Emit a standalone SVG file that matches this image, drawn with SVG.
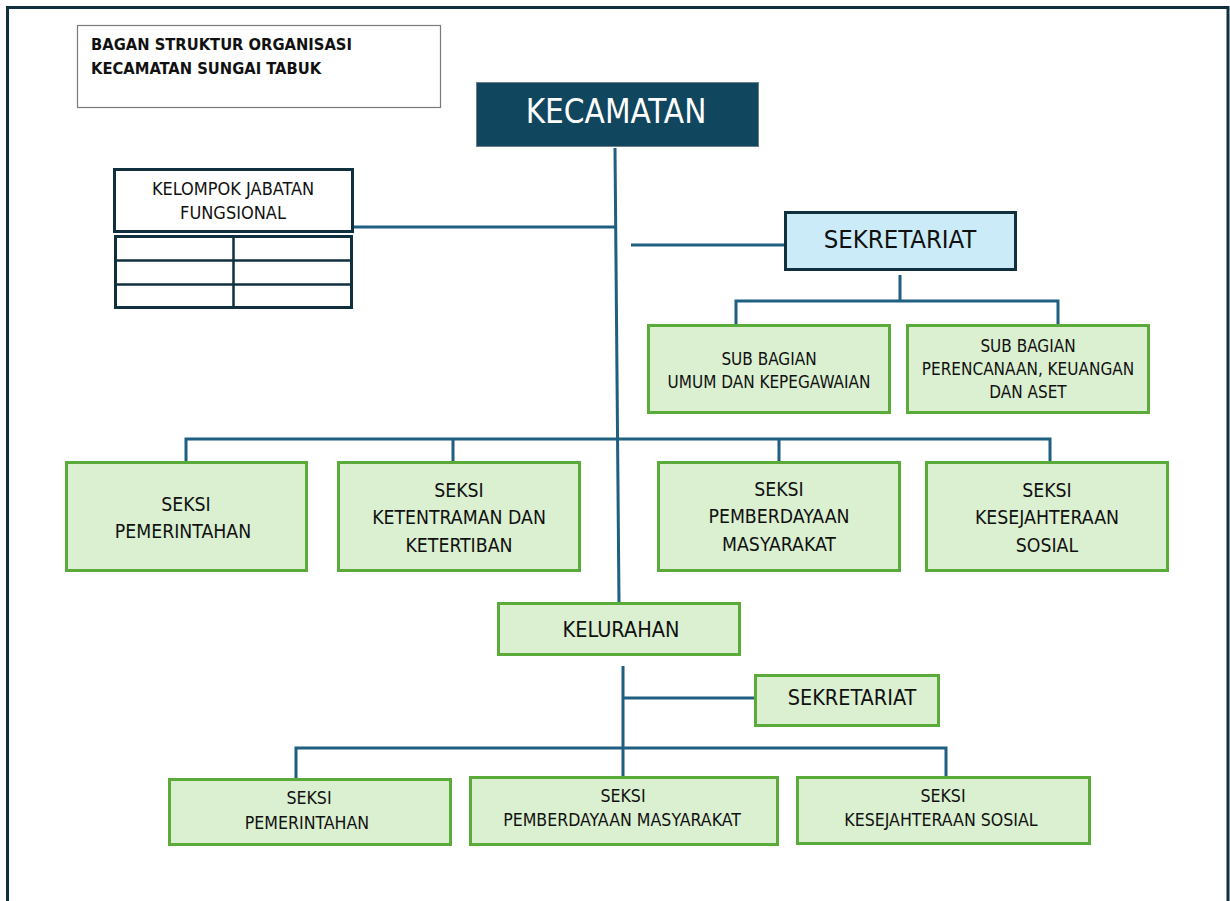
<svg xmlns="http://www.w3.org/2000/svg" width="1230" height="901" viewBox="0 0 1230 901">
<style>
text{font-family:"DejaVu Sans Condensed","DejaVu Sans","Liberation Sans",sans-serif;font-stretch:condensed;fill:#111;text-anchor:middle}
.g{fill:#daf0d0;stroke:#5aab3a;stroke-width:3}
.dk{fill:#fff;stroke:#10303f;stroke-width:3}
.ln{stroke:#1e5f82;stroke-width:3;fill:none}
.t19{font-size:19.3px}
.t16{font-size:17px}
.t17{font-size:17.6px}
</style>
<rect width="1230" height="901" fill="#fff"/>
<path d="M7.5 901 V7.5 H1228 V901" fill="none" stroke="#10303f" stroke-width="3"/>
<g id="title">
<rect x="77.5" y="25.5" width="363" height="82" fill="#fff" stroke="#7a7a7a" stroke-width="1.2"/>
<text x="91" y="50" style="font-size:16.4px;font-weight:bold;text-anchor:start">BAGAN STRUKTUR ORGANISASI</text>
<text x="91" y="74" style="font-size:16.4px;font-weight:bold;text-anchor:start">KECAMATAN SUNGAI TABUK</text>
</g>
<g id="connectors">
<path class="ln" d="M615 148 L619 603"/>
<path class="ln" d="M353 227 H616"/>
<path class="ln" d="M631 245 H785"/>
<path class="ln" d="M900 275 V301 M736 325 V301 H1058 V325"/>
<path class="ln" d="M186 462 V439 H1050 V462 M453 439 V462 M779 439 V462"/>
<path class="ln" d="M623 666 V776 M624 698 H755"/>
<path class="ln" d="M296 778 V748 H946 V777"/>
</g>
<g id="kecamatan">
<rect x="476.5" y="82.5" width="282" height="64" fill="#10465e" stroke="#6d7f88" stroke-width="1"/>
<text x="616" y="123" style="font-size:33px;fill:#fff">KECAMATAN</text>
</g>
<g id="kjf">
<rect class="dk" x="114.5" y="169.5" width="238" height="62"/>
<text x="233" y="195" style="font-size:18px">KELOMPOK JABATAN</text>
<text x="233" y="219" style="font-size:18px">FUNGSIONAL</text>
<rect class="dk" x="115.5" y="236.5" width="236" height="71" stroke-width="2.5"/>
<path d="M115 260.5 H352 M115 284.5 H352 M233.5 236 V308" stroke="#10303f" stroke-width="2.5"/>
</g>
<g id="sekretariat">
<rect x="785.5" y="212.5" width="230" height="57" fill="#cbebf9" stroke="#10303f" stroke-width="3"/>
<text x="900" y="248" style="font-size:25.5px">SEKRETARIAT</text>
</g>
<g id="subbag-umum">
<rect class="g" x="648.5" y="325.5" width="241" height="87"/>
<text class="t16" x="769" y="365">SUB BAGIAN</text>
<text class="t16" x="769" y="388">UMUM DAN KEPEGAWAIAN</text>
</g>
<g id="subbag-perencanaan">
<rect class="g" x="907.5" y="325.5" width="241" height="87"/>
<text class="t16" x="1028" y="352">SUB BAGIAN</text>
<text class="t16" x="1028" y="375">PERENCANAAN, KEUANGAN</text>
<text class="t16" x="1028" y="398">DAN ASET</text>
</g>
<g id="seksi-pemerintahan">
<rect class="g" x="66.5" y="462.5" width="240" height="108"/>
<text class="t19" x="186" y="511">SEKSI</text>
<text class="t19" x="183" y="538">PEMERINTAHAN</text>
</g>
<g id="seksi-ketentraman">
<rect class="g" x="338.5" y="462.5" width="241" height="108"/>
<text class="t19" x="459" y="497">SEKSI</text>
<text class="t19" x="459" y="524">KETENTRAMAN DAN</text>
<text class="t19" x="459" y="552">KETERTIBAN</text>
</g>
<g id="seksi-pemberdayaan">
<rect class="g" x="658.5" y="462.5" width="241" height="108"/>
<text class="t19" x="779" y="496">SEKSI</text>
<text class="t19" x="779" y="523">PEMBERDAYAAN</text>
<text class="t19" x="779" y="551">MASYARAKAT</text>
</g>
<g id="seksi-kesejahteraan">
<rect class="g" x="926.5" y="462.5" width="241" height="108"/>
<text class="t19" x="1047" y="497">SEKSI</text>
<text class="t19" x="1047" y="524">KESEJAHTERAAN</text>
<text class="t19" x="1047" y="552">SOSIAL</text>
</g>
<g id="kelurahan">
<rect class="g" x="498.5" y="603.5" width="241" height="51"/>
<text x="621" y="637" style="font-size:21.5px">KELURAHAN</text>
</g>
<g id="kel-sekretariat">
<rect class="g" x="755.5" y="675.5" width="183" height="50"/>
<text x="852" y="705" style="font-size:21.5px">SEKRETARIAT</text>
</g>
<g id="kel-seksi-pemerintahan">
<rect class="g" x="169.5" y="779.5" width="281" height="65"/>
<text class="t17" x="309" y="804">SEKSI</text>
<text class="t17" x="307" y="829">PEMERINTAHAN</text>
</g>
<g id="kel-seksi-pemberdayaan">
<rect class="g" x="470.5" y="777.5" width="307" height="67"/>
<text class="t17" x="623" y="802">SEKSI</text>
<text class="t17" x="622" y="826">PEMBERDAYAAN MASYARAKAT</text>
</g>
<g id="kel-seksi-kesejahteraan">
<rect class="g" x="797.5" y="777.5" width="292" height="66"/>
<text class="t17" x="943" y="802">SEKSI</text>
<text class="t17" x="941" y="826">KESEJAHTERAAN SOSIAL</text>
</g>
</svg>
